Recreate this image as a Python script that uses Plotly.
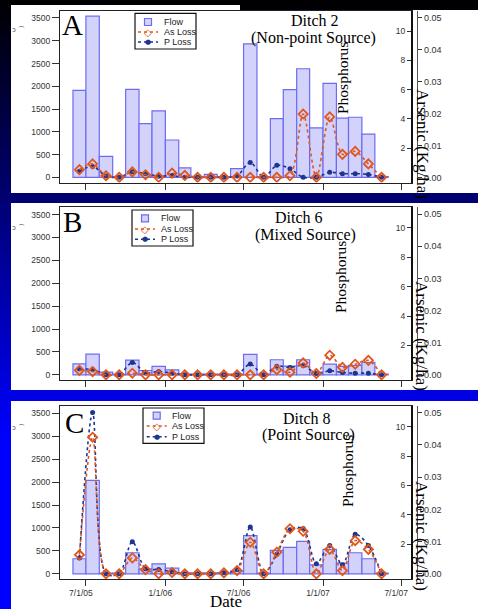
import pandas as pd
import plotly.graph_objects as go

# ---------------- data ----------------
months = pd.date_range("2005-06-01", periods=24, freq="MS")

flow_A = [1910, 3540, 460, 15, 1930, 1180, 1460, 820, 210, 15, 65, 15,
          190, 2930, 15, 1290, 1925, 2385, 1085, 2065, 1300, 1320, 950, 15]
p_A = [0.41, 0.75, 0.10, 0, 0.38, 0.25, 0.08, 0.12, 0, 0, 0, 0,
       0.10, 1.02, 0, 0.82, 0.59, 0, 0, 0.34, 0.25, 0.25, 0.20, 0]
as_A = [0.0024, 0.0042, 0.0005, 0, 0.0017, 0.0008, 0, 0.0013, 0.0006, 0, 0, 0,
        0, 0, 0, 0, 0.0005, 0.0198, 0, 0.0189, 0.0072, 0.0081, 0.0042, 0]

flow_B = [241, 453, 58, 15, 321, 95, 183, 110, 15, 15, 15, 15,
          15, 445, 15, 329, 190, 329, 58, 234, 183, 205, 270, 15]
p_B = [0.39, 0.36, 0, 0, 0.84, 0.14, 0.23, 0.11, 0, 0, 0, 0,
       0, 0.73, 0, 0.59, 0.50, 0.64, 0.09, 0.27, 0.16, 0.11, 0.11, 0]
as_B = [0.0014, 0.0010, 0, 0, 0.0005, 0, 0, 0, 0, 0, 0, 0,
        0, 0, 0, 0.0016, 0.0008, 0.0037, 0.0004, 0.0061, 0.0023, 0.0033, 0.0045, 0]

flow_C = [329, 2039, 15, 15, 460, 110, 219, 124, 20, 20, 20, 20,
          58, 833, 15, 511, 577, 709, 197, 533, 234, 460, 329, 15]
p_C = [1.07, 10.95, 0, 0, 2.18, 0.34, 0.30, 0.14, 0, 0, 0, 0.07,
       0.29, 3.18, 0, 1.33, 3.00, 3.07, 0.68, 1.93, 0.61, 2.68, 1.93, 0]
as_C = [0.0059, 0.0424, 0, 0, 0.0049, 0.0013, 0, 0.0004, 0, 0, 0, 0.0003,
        0.0010, 0.0098, 0, 0.0067, 0.0140, 0.0132, 0, 0.0076, 0.0010, 0.0103, 0.0076, 0]

panel_letters = ["A", "B", "C"]
panel_title_1 = ["Ditch 2", "Ditch 6", "Ditch 8"]
panel_title_2 = ["(Non-point Source)", "(Mixed Source)", "(Point Source)"]
legend_names = ["Flow", "As Loss", "P Loss"]

tick_dates = ["2005-07-01", "2006-01-01", "2006-07-01", "2007-01-01", "2007-07-01"]
tick_text = ["7/1/05", "1/1/06", "7/1/06", "1/1/07", "7/1/07"]
flow_ticks = [0, 500, 1000, 1500, 2000, 2500, 3000, 3500]
p_ticks = [2, 4, 6, 8, 10]
as_ticks = [0.0, 0.01, 0.02, 0.03, 0.04, 0.05]

# ---------------- geometry helpers ----------------
W, H = 478, 609
def px(x):
    return x / W
def py(y):
    return 1 - y / H

days = months.days_in_month
bar_width = [d * 86400000 for d in days]
mid = [m + pd.Timedelta(days=d / 2) for m, d in zip(months, days)]

X_RANGE = ["2005-05-02", "2007-07-26"]
FLOW_RANGE = [-113, 3660]
P_RANGE = [-0.353, 11.4]
AS_RANGE = [-0.00161, 0.0521]
XDOM = [px(60), px(412)]
YDOMS = [[py(182.5), py(10.7)], [py(380), py(207.3)], [py(579), py(406)]]

SANS = "Liberation Sans, Arial, sans-serif"
SERIF = "Liberation Serif, Times New Roman, serif"
AX = "#333333"

BAR_FILL = "#d2d2fa"
BAR_LINE = "#6c6cf0"
AS_COL = "#e0561c"
P_COL = "#1c3590"

fig = go.Figure()
layout = dict(width=W, height=H, margin=dict(l=0, r=0, t=0, b=0),
              paper_bgcolor="#000000", plot_bgcolor="rgba(0,0,0,0)",
              showlegend=False)

data_sets = [(flow_A, p_A, as_A), (flow_B, p_B, as_B), (flow_C, p_C, as_C)]

for i, (fl, pp, aa) in enumerate(data_sets):
    xn = "x" if i == 0 else f"x{i+1}"
    yf = "y" if i == 0 else f"y{3*i+1}"
    yp = f"y{3*i+2}"
    ya = f"y{3*i+3}"
    fig.add_trace(go.Bar(x=months, y=fl, width=bar_width, offset=0,
                         marker=dict(color=BAR_FILL, line=dict(color=BAR_LINE, width=1.2)),
                         xaxis=xn, yaxis=yf, name="Flow"))
    fig.add_trace(go.Scatter(x=mid, y=aa, mode="lines+markers", xaxis=xn, yaxis=ya,
                             line=dict(color=AS_COL, dash="dot", width=1.6, shape="spline", smoothing=0.9),
                             marker=dict(symbol="diamond-open", size=7, color=AS_COL, line=dict(width=1.8, color=AS_COL)),
                             name="As Loss"))
    fig.add_trace(go.Scatter(x=mid, y=pp, mode="lines+markers", xaxis=xn, yaxis=yp,
                             line=dict(color=P_COL, dash="dot", width=1.6, shape="spline", smoothing=0.9),
                             marker=dict(symbol="circle", size=5, color=P_COL),
                             name="P Loss"))

    xkey = "xaxis" if i == 0 else f"xaxis{i+1}"
    fkey = "yaxis" if i == 0 else f"yaxis{3*i+1}"
    pkey = f"yaxis{3*i+2}"
    akey = f"yaxis{3*i+3}"
    layout[xkey] = dict(domain=XDOM, range=X_RANGE, type="date", anchor=yf,
                        tickvals=tick_dates, ticktext=tick_text, showticklabels=(i == 2),
                        ticklabelshift=-5,
                        ticks="outside", ticklen=6, tickcolor=AX, tickwidth=1,
                        showline=True, linecolor="#222222", linewidth=1.3, mirror=True,
                        showgrid=False, zeroline=False,
                        tickfont=dict(family=SANS, size=8.5, color=AX))
    layout[fkey] = dict(domain=YDOMS[i], range=FLOW_RANGE, anchor=xn,
                        tickvals=flow_ticks, ticks="outside", ticklen=7, tickcolor=AX,
                        showline=True, linecolor="#222222", linewidth=1.3, mirror=True,
                        showgrid=False, zeroline=False,
                        tickfont=dict(family=SANS, size=8.5, color=AX))
    # phosphorus axis: line on the right frame, ticks and labels pointing into the plot
    layout[pkey] = dict(range=P_RANGE, overlaying=yf, anchor="free", position=px(412), side="left",
                        tickvals=p_ticks, ticks="outside", ticklen=4, tickcolor=AX,
                        showline=True, linecolor="#111111", linewidth=2,
                        showgrid=False, zeroline=False,
                        tickfont=dict(family=SANS, size=8.5, color=AX))
    layout[akey] = dict(range=AS_RANGE, overlaying=yf, anchor="free", position=px(417), side="right",
                        tickvals=as_ticks, tickformat=".2f", ticks="outside", ticklen=4, tickcolor=AX,
                        showline=True, linecolor="#555555", linewidth=1.2,
                        showgrid=False, zeroline=False,
                        tickfont=dict(family=SANS, size=9, color=AX))

# ---------------- background ----------------
shapes = []
step = 7
for y0 in range(0, H, step):
    yc = y0 + step / 2
    b = int(min(255, 0.58 * yc))
    shapes.append(dict(type="rect", xref="paper", yref="paper", layer="below",
                       x0=0, x1=1, y0=py(y0 + step + 0.5), y1=py(y0),
                       fillcolor=f"rgb(0,0,{b})", line=dict(width=0)))
white_panels = [(11, 240, 5, 193), (240, 478, 10, 193), (11, 478, 203, 390), (11, 478, 401, 609)]
for x0, x1, y0, y1 in white_panels:
    shapes.append(dict(type="rect", xref="paper", yref="paper", layer="below",
                       x0=px(x0), x1=px(x1), y0=py(y1), y1=py(y0),
                       fillcolor="white", line=dict(width=0)))

annotations = []
def note(x, y, text, font, angle=0, xanchor="center"):
    annotations.append(dict(x=px(x), y=py(y), xref="paper", yref="paper", text=text,
                            textangle=angle, showarrow=False, xanchor=xanchor, yanchor="middle",
                            font=font))

# legends (box, symbols, text)
legend_pos = [(135, 196, 13.3, 49, 148, 162, [22, 32, 42]),
              (132, 193, 210, 246, 145, 159, [218.3, 229, 239.3]),
              (143, 204, 408, 443.3, 156.7, 170, [415.7, 426, 436.7])]
for (bx0, bx1, by0, by1, sx, tx, rows) in legend_pos:
    shapes.append(dict(type="rect", xref="paper", yref="paper", x0=px(bx0), x1=px(bx1),
                       y0=py(by1), y1=py(by0), fillcolor="white", line=dict(color="#111111", width=1.2)))
    shapes.append(dict(type="rect", xref="paper", yref="paper", x0=px(sx - 3.5), x1=px(sx + 3.5),
                       y0=py(rows[0] + 3.5), y1=py(rows[0] - 3.5), fillcolor=BAR_FILL,
                       line=dict(color=BAR_LINE, width=1.2)))
    for r, col in ((rows[1], AS_COL), (rows[2], P_COL)):
        shapes.append(dict(type="line", xref="paper", yref="paper", x0=px(sx - 10), x1=px(sx + 10),
                           y0=py(r), y1=py(r), line=dict(color=col, width=1.5, dash="dot")))
    note(sx, rows[1], "◇", dict(family="DejaVu Sans", size=10, color=AS_COL))
    note(sx, rows[2], "●", dict(family="DejaVu Sans", size=7, color=P_COL))
    for r, name in zip(rows, legend_names):
        note(tx, r, name, dict(family=SANS, size=9, color="#222222"), xanchor="left")

# panel letters & titles
letter_pos = [(72.5, 25), (72.5, 221.7), (74, 423)]
title1_pos = [(315, 21), (299, 217.5), (306.5, 418)]
title2_pos = [(313, 38), (305.5, 235), (308, 435)]
for i in range(3):
    note(letter_pos[i][0], letter_pos[i][1], panel_letters[i], dict(family=SERIF, size=29, color="black"))
    note(title1_pos[i][0], title1_pos[i][1], panel_title_1[i], dict(family=SERIF, size=16, color="black"))
    note(title2_pos[i][0], title2_pos[i][1], panel_title_2[i], dict(family=SERIF, size=16, color="black"))

# rotated axis labels
p_label_pos = [(342, 78), (340, 277), (347, 471)]
as_label_pos = [(422, 144), (422, 336), (422, 536)]
for (x, y) in p_label_pos:
    note(x, y, "Phosphorus", dict(family=SERIF, size=15.5, color="black"), angle=-90)
for (x, y) in as_label_pos:
    note(x, y, "Arsenic (Kg/ha)", dict(family=SERIF, size=17, color="black"), angle=90)
# clipped left-label fragments
for y in (30, 228, 428):
    note(18, y, "ɔ ⌒", dict(family="DejaVu Sans", size=7, color="#444444"))

note(226, 601, "Date", dict(family=SERIF, size=17, color="black"))

layout["shapes"] = shapes
layout["annotations"] = annotations
fig.update_layout(**layout)
fig.write_html("out.html", config={"displayModeBar": False},
               post_script="document.body.style.margin='0';document.body.style.overflow='hidden';")
